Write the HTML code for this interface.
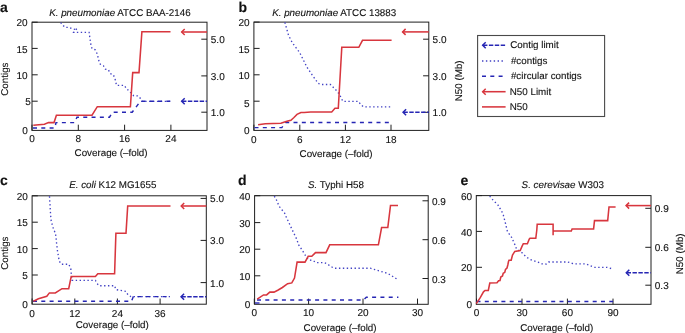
<!DOCTYPE html><html><head><meta charset="utf-8"><style>html,body{margin:0;padding:0;background:#fff;}svg{display:block;filter:blur(0.3px);}text{text-rendering:geometricPrecision;font-family:"Liberation Sans",sans-serif;fill:#111;stroke:#111;stroke-width:0.12px;}</style></head><body>
<svg width="685" height="333" viewBox="0 0 685 333">
<text x="0" y="11.7" font-size="14" font-weight="bold" fill="#000">a</text>
<text x="238.5" y="11.7" font-size="14" font-weight="bold" fill="#000">b</text>
<text x="0" y="184.8" font-size="14" font-weight="bold" fill="#000">c</text>
<text x="238" y="184.8" font-size="14" font-weight="bold" fill="#000">d</text>
<text x="460.5" y="184.8" font-size="14" font-weight="bold" fill="#000">e</text>
<text x="49.2" y="15.6" font-size="9.8"><tspan font-style="italic">K. pneumoniae</tspan> ATCC BAA-2146</text>
<text x="272.2" y="15.5" font-size="9.8"><tspan font-style="italic">K. pneumoniae</tspan> ATCC 13883</text>
<text x="69.2" y="188.2" font-size="9.8"><tspan font-style="italic">E. coli</tspan> K12 MG1655</text>
<text x="308" y="188.2" font-size="9.8"><tspan font-style="italic">S.</tspan> Typhi H58</text>
<text x="521.6" y="188.1" font-size="9.8"><tspan font-style="italic">S. cerevisae</tspan> W303</text>
<text x="74.6" y="156.4" font-size="9.8" text-anchor="start">Coverage (–fold)</text>
<text x="299.6" y="157" font-size="9.8" text-anchor="start">Coverage (–fold)</text>
<text x="75.8" y="328" font-size="9.8" text-anchor="start">Coverage (–fold)</text>
<text x="303.6" y="331" font-size="9.8" text-anchor="start">Coverage (–fold)</text>
<text x="520.2" y="330.8" font-size="9.8" text-anchor="start">Coverage (–fold)</text>
<text x="0" y="0" font-size="9.8" text-anchor="middle" transform="translate(8.4,79.1) rotate(-90)">Contigs</text>
<text x="0" y="0" font-size="9.8" text-anchor="middle" transform="translate(8.4,253.1) rotate(-90)">Contigs</text>
<text x="0" y="0" font-size="9.8" text-anchor="middle" transform="translate(461.5,80.8) rotate(-90)">N50 (Mb)</text>
<text x="0" y="0" font-size="9.8" text-anchor="middle" transform="translate(683.3,253.8) rotate(-90)">N50 (Mb)</text>
<rect x="32" y="22.2" width="175" height="108.2" fill="none" stroke="#1e1e1e" stroke-width="1"/>
<line x1="32" y1="22.2" x2="37.7" y2="22.2" stroke="#1e1e1e" stroke-width="1"/>
<text x="27.7" y="26.299999999999997" font-size="10" text-anchor="end">20</text>
<line x1="32" y1="48.4" x2="37.7" y2="48.4" stroke="#1e1e1e" stroke-width="1"/>
<text x="27.7" y="52.5" font-size="10" text-anchor="end">15</text>
<line x1="32" y1="74.8" x2="37.7" y2="74.8" stroke="#1e1e1e" stroke-width="1"/>
<text x="27.7" y="78.89999999999999" font-size="10" text-anchor="end">10</text>
<line x1="32" y1="101.2" x2="37.7" y2="101.2" stroke="#1e1e1e" stroke-width="1"/>
<text x="30.7" y="105.3" font-size="10" text-anchor="end">5</text>
<text x="27.7" y="134.4" font-size="10" text-anchor="end">0</text>
<line x1="201.3" y1="39.2" x2="207" y2="39.2" stroke="#1e1e1e" stroke-width="1"/>
<text x="210.8" y="43.2" font-size="10" text-anchor="start">5.0</text>
<line x1="201.3" y1="75.9" x2="207" y2="75.9" stroke="#1e1e1e" stroke-width="1"/>
<text x="210.8" y="79.9" font-size="10" text-anchor="start">3.0</text>
<line x1="201.3" y1="112.2" x2="207" y2="112.2" stroke="#1e1e1e" stroke-width="1"/>
<text x="210.8" y="116.2" font-size="10" text-anchor="start">1.0</text>
<line x1="32" y1="130.4" x2="32" y2="124.7" stroke="#1e1e1e" stroke-width="1"/>
<text x="32" y="142.4" font-size="10" text-anchor="middle">0</text>
<line x1="78.3" y1="130.4" x2="78.3" y2="124.7" stroke="#1e1e1e" stroke-width="1"/>
<text x="78.3" y="142.4" font-size="10" text-anchor="middle">8</text>
<line x1="124.6" y1="130.4" x2="124.6" y2="124.7" stroke="#1e1e1e" stroke-width="1"/>
<text x="124.6" y="142.4" font-size="10" text-anchor="middle">16</text>
<line x1="170.9" y1="130.4" x2="170.9" y2="124.7" stroke="#1e1e1e" stroke-width="1"/>
<text x="170.9" y="142.4" font-size="10" text-anchor="middle">24</text>
<polyline points="60.6,22.6 62.6,24.8 64.9,27.3 68.9,27.3 72.1,28.7 75.4,29.4 77.0,28.4 73.8,32.4 89.1,32.4 89.2,33.4 90.4,41.4 91.0,45.3 92.0,48.6 95.2,49.8 97.0,53.4 98.0,57.0 99.0,61.2 100.3,64.2 103.4,65.7 105.4,69.2 108.4,69.7 110.1,73.5 113.2,74.6 114.9,78.2 116.5,85.3 124.3,85.3 126.4,88.6 129.0,90.8 131.5,93.5 133.8,95.8 137.8,95.8 140.5,98.5 141.8,101.3 171.0,101.3" fill="none" stroke="#4242c4" stroke-width="1.35" stroke-dasharray="1.4 2.5"/>
<polyline points="33.0,128.0 54.8,128.0 56.0,122.6 74.6,122.6 77.0,117.2 109.5,117.2 112.6,112.2 132.2,112.2 140.4,101.3 171.0,101.3" fill="none" stroke="#2626b4" stroke-width="1.45" stroke-dasharray="4 4.3"/>
<polyline points="33.3,125.3 44.4,124.2 48.5,122.6 54.0,122.6 56.4,115.2 92.0,115.2 97.3,106.7 130.4,106.7 132.7,72.6 139.0,72.6 141.9,31.8 170.5,31.8" fill="none" stroke="#d8363e" stroke-width="1.55" stroke-linejoin="miter"/>
<line x1="181.5" y1="32" x2="207" y2="32" stroke="#d8363e" stroke-width="1.55"/>
<polyline points="184.70000000000002,29.0 181.70000000000002,32 184.70000000000002,35.0" fill="none" stroke="#d8363e" stroke-width="1.5"/>
<line x1="181.5" y1="101.3" x2="207" y2="101.3" stroke="#2626b4" stroke-width="1.45" stroke-dasharray="4.9 1.5 4.4 1.5 4.4 1.5 4.4 1.5 4.4 1.5"/>
<polyline points="184.70000000000002,98.3 181.70000000000002,101.3 184.70000000000002,104.3" fill="none" stroke="#2626b4" stroke-width="1.5"/>
<rect x="253.9" y="22.1" width="174.9" height="108.30000000000001" fill="none" stroke="#1e1e1e" stroke-width="1"/>
<line x1="253.9" y1="22.1" x2="259.6" y2="22.1" stroke="#1e1e1e" stroke-width="1"/>
<text x="249.6" y="26.200000000000003" font-size="10" text-anchor="end">20</text>
<line x1="253.9" y1="48.4" x2="259.6" y2="48.4" stroke="#1e1e1e" stroke-width="1"/>
<text x="249.6" y="52.5" font-size="10" text-anchor="end">15</text>
<line x1="253.9" y1="74.8" x2="259.6" y2="74.8" stroke="#1e1e1e" stroke-width="1"/>
<text x="249.6" y="78.89999999999999" font-size="10" text-anchor="end">10</text>
<line x1="253.9" y1="101.2" x2="259.6" y2="101.2" stroke="#1e1e1e" stroke-width="1"/>
<text x="249.6" y="106.8" font-size="10" text-anchor="end">5</text>
<text x="249.6" y="134.4" font-size="10" text-anchor="end">0</text>
<line x1="423.1" y1="39.2" x2="428.8" y2="39.2" stroke="#1e1e1e" stroke-width="1"/>
<text x="432.6" y="43.2" font-size="10" text-anchor="start">5.0</text>
<line x1="423.1" y1="75.8" x2="428.8" y2="75.8" stroke="#1e1e1e" stroke-width="1"/>
<text x="432.6" y="79.8" font-size="10" text-anchor="start">3.0</text>
<line x1="423.1" y1="112.3" x2="428.8" y2="112.3" stroke="#1e1e1e" stroke-width="1"/>
<text x="432.6" y="116.3" font-size="10" text-anchor="start">1.0</text>
<line x1="253.9" y1="130.4" x2="253.9" y2="124.7" stroke="#1e1e1e" stroke-width="1"/>
<text x="253.9" y="143.0" font-size="10" text-anchor="middle">0</text>
<line x1="299.8" y1="130.4" x2="299.8" y2="124.7" stroke="#1e1e1e" stroke-width="1"/>
<text x="299.8" y="143.0" font-size="10" text-anchor="middle">6</text>
<line x1="345.4" y1="130.4" x2="345.4" y2="124.7" stroke="#1e1e1e" stroke-width="1"/>
<text x="345.4" y="143.0" font-size="10" text-anchor="middle">12</text>
<line x1="391" y1="130.4" x2="391" y2="124.7" stroke="#1e1e1e" stroke-width="1"/>
<text x="391" y="143.0" font-size="10" text-anchor="middle">18</text>
<polyline points="284.9,22.4 288.5,35.2 292.2,42.6 299.6,52.5 307.0,67.3 312.0,74.7 318.1,83.3 320.6,84.5 330.4,84.5 336.6,90.7 339.5,94.4 342.8,101.3 358.3,101.3 360.6,104.4 363.3,106.8 391.0,106.8" fill="none" stroke="#4242c4" stroke-width="1.35" stroke-dasharray="1.4 2.5"/>
<polyline points="254.5,127.6 281.8,127.6 285.8,122.5 392.0,122.5" fill="none" stroke="#2626b4" stroke-width="1.45" stroke-dasharray="4 4.3"/>
<polyline points="258.1,124.8 265.3,123.8 280.9,123.3 285.3,121.7 288.7,120.8 290.9,120.3 293.7,117.8 297.0,114.4 300.9,112.6 304.2,112.5 310.6,111.9 331.7,111.9 335.0,108.3 338.3,108.3 340.2,75.0 341.8,47.3 358.8,47.3 362.5,40.3 391.6,40.3" fill="none" stroke="#d8363e" stroke-width="1.55" stroke-linejoin="miter"/>
<line x1="402.4" y1="31.9" x2="428.8" y2="31.9" stroke="#d8363e" stroke-width="1.55"/>
<polyline points="405.59999999999997,28.9 402.59999999999997,31.9 405.59999999999997,34.9" fill="none" stroke="#d8363e" stroke-width="1.5"/>
<line x1="402.9" y1="112.3" x2="428.8" y2="112.3" stroke="#2626b4" stroke-width="1.45" stroke-dasharray="4.9 1.5 4.4 1.5 4.4 1.5 4.4 1.5 4.4 1.5"/>
<polyline points="406.09999999999997,109.3 403.09999999999997,112.3 406.09999999999997,115.3" fill="none" stroke="#2626b4" stroke-width="1.5"/>
<rect x="32.1" y="195.8" width="174.20000000000002" height="108.39999999999998" fill="none" stroke="#1e1e1e" stroke-width="1"/>
<line x1="32.1" y1="195.8" x2="37.800000000000004" y2="195.8" stroke="#1e1e1e" stroke-width="1"/>
<text x="27.8" y="199.9" font-size="10" text-anchor="end">20</text>
<line x1="32.1" y1="222.2" x2="37.800000000000004" y2="222.2" stroke="#1e1e1e" stroke-width="1"/>
<text x="27.8" y="226.29999999999998" font-size="10" text-anchor="end">15</text>
<line x1="32.1" y1="248.6" x2="37.800000000000004" y2="248.6" stroke="#1e1e1e" stroke-width="1"/>
<text x="27.8" y="252.7" font-size="10" text-anchor="end">10</text>
<line x1="32.1" y1="275.0" x2="37.800000000000004" y2="275.0" stroke="#1e1e1e" stroke-width="1"/>
<text x="27.8" y="279.1" font-size="10" text-anchor="end">5</text>
<text x="27.8" y="307.6" font-size="10" text-anchor="end">0</text>
<line x1="200.60000000000002" y1="198.4" x2="206.3" y2="198.4" stroke="#1e1e1e" stroke-width="1"/>
<text x="210.10000000000002" y="202.4" font-size="10" text-anchor="start">5.0</text>
<line x1="200.60000000000002" y1="240.4" x2="206.3" y2="240.4" stroke="#1e1e1e" stroke-width="1"/>
<text x="210.10000000000002" y="244.4" font-size="10" text-anchor="start">3.0</text>
<line x1="200.60000000000002" y1="282.6" x2="206.3" y2="282.6" stroke="#1e1e1e" stroke-width="1"/>
<text x="210.10000000000002" y="286.6" font-size="10" text-anchor="start">1.0</text>
<line x1="32.1" y1="304.2" x2="32.1" y2="298.5" stroke="#1e1e1e" stroke-width="1"/>
<text x="32.1" y="317.0" font-size="10" text-anchor="middle">0</text>
<line x1="74.8" y1="304.2" x2="74.8" y2="298.5" stroke="#1e1e1e" stroke-width="1"/>
<text x="74.8" y="317.0" font-size="10" text-anchor="middle">12</text>
<line x1="117.4" y1="304.2" x2="117.4" y2="298.5" stroke="#1e1e1e" stroke-width="1"/>
<text x="117.4" y="317.0" font-size="10" text-anchor="middle">24</text>
<line x1="160.1" y1="304.2" x2="160.1" y2="298.5" stroke="#1e1e1e" stroke-width="1"/>
<text x="160.1" y="317.0" font-size="10" text-anchor="middle">36</text>
<polyline points="49.5,196.3 50.6,215.0 51.2,221.0 53.2,228.0 55.6,234.0 57.3,249.7 59.2,261.0 61.2,264.2 68.8,264.2 70.8,269.0 72.0,280.4 95.4,280.4 97.2,283.6 99.0,285.7 114.6,285.7 115.8,289.6 126.0,291.4 128.0,295.0 131.0,296.6 170.0,296.6" fill="none" stroke="#4242c4" stroke-width="1.35" stroke-dasharray="1.4 2.5"/>
<polyline points="33.0,301.3 131.5,301.3 133.3,296.6 169.8,296.6" fill="none" stroke="#2626b4" stroke-width="1.45" stroke-dasharray="4 4.3"/>
<polyline points="33.4,301.3 38.4,298.8 46.8,296.3 49.4,292.9 55.3,292.9 62.0,288.7 68.7,288.7 71.2,276.5 95.4,276.5 97.8,273.7 114.6,273.7 115.9,233.3 126.0,233.3 127.7,205.9 170.5,205.9" fill="none" stroke="#d8363e" stroke-width="1.55" stroke-linejoin="miter"/>
<line x1="181.0" y1="206" x2="206.3" y2="206" stroke="#d8363e" stroke-width="1.55"/>
<polyline points="184.20000000000002,203.0 181.20000000000002,206 184.20000000000002,209.0" fill="none" stroke="#d8363e" stroke-width="1.5"/>
<line x1="180.9" y1="296.7" x2="206.3" y2="296.7" stroke="#2626b4" stroke-width="1.45" stroke-dasharray="4.9 1.5 4.4 1.5 4.4 1.5 4.4 1.5 4.4 1.5"/>
<polyline points="184.10000000000002,293.7 181.10000000000002,296.7 184.10000000000002,299.7" fill="none" stroke="#2626b4" stroke-width="1.5"/>
<rect x="254.6" y="195.7" width="173.6" height="108.60000000000002" fill="none" stroke="#1e1e1e" stroke-width="1"/>
<line x1="254.6" y1="195.7" x2="260.3" y2="195.7" stroke="#1e1e1e" stroke-width="1"/>
<text x="250.29999999999998" y="199.79999999999998" font-size="10" text-anchor="end">40</text>
<line x1="254.6" y1="222.6" x2="260.3" y2="222.6" stroke="#1e1e1e" stroke-width="1"/>
<text x="250.29999999999998" y="226.7" font-size="10" text-anchor="end">30</text>
<line x1="254.6" y1="249.2" x2="260.3" y2="249.2" stroke="#1e1e1e" stroke-width="1"/>
<text x="250.29999999999998" y="253.29999999999998" font-size="10" text-anchor="end">20</text>
<line x1="254.6" y1="275.8" x2="260.3" y2="275.8" stroke="#1e1e1e" stroke-width="1"/>
<text x="250.29999999999998" y="279.90000000000003" font-size="10" text-anchor="end">10</text>
<text x="250.29999999999998" y="307.90000000000003" font-size="10" text-anchor="end">0</text>
<line x1="422.5" y1="200.8" x2="428.2" y2="200.8" stroke="#1e1e1e" stroke-width="1"/>
<text x="432.0" y="204.8" font-size="10" text-anchor="start">0.9</text>
<line x1="422.5" y1="239.7" x2="428.2" y2="239.7" stroke="#1e1e1e" stroke-width="1"/>
<text x="432.0" y="243.7" font-size="10" text-anchor="start">0.6</text>
<line x1="422.5" y1="278.5" x2="428.2" y2="278.5" stroke="#1e1e1e" stroke-width="1"/>
<text x="432.0" y="282.5" font-size="10" text-anchor="start">0.3</text>
<line x1="254.3" y1="304.3" x2="254.3" y2="298.6" stroke="#1e1e1e" stroke-width="1"/>
<text x="254.3" y="316.3" font-size="10" text-anchor="middle">0</text>
<line x1="308.6" y1="304.3" x2="308.6" y2="298.6" stroke="#1e1e1e" stroke-width="1"/>
<text x="308.6" y="316.3" font-size="10" text-anchor="middle">10</text>
<line x1="363" y1="304.3" x2="363" y2="298.6" stroke="#1e1e1e" stroke-width="1"/>
<text x="363" y="316.3" font-size="10" text-anchor="middle">20</text>
<line x1="417.5" y1="304.3" x2="417.5" y2="298.6" stroke="#1e1e1e" stroke-width="1"/>
<text x="417.5" y="316.3" font-size="10" text-anchor="middle">30</text>
<polyline points="274.3,196.1 276.2,199.3 277.7,203.0 279.6,206.8 282.1,210.0 284.6,213.1 285.6,215.7 292.3,230.0 297.1,240.0 298.2,244.2 302.4,250.5 306.6,257.4 309.2,260.0 312.9,260.5 316.0,262.6 324.0,262.6 327.1,263.7 330.3,266.1 334.0,268.2 370.3,268.2 378.4,270.7 387.8,273.4 396.5,278.8" fill="none" stroke="#4242c4" stroke-width="1.35" stroke-dasharray="1.4 2.5"/>
<polyline points="257.0,300.0 363.5,300.0 366.3,297.3 398.4,297.3" fill="none" stroke="#2626b4" stroke-width="1.45" stroke-dasharray="4 4.3"/>
<line x1="255" y1="303" x2="259.5" y2="303" stroke="#2626b4" stroke-width="1.4"/>
<polyline points="257.2,299.1 263.5,294.9 266.6,294.9 269.8,292.1 274.0,292.1 278.2,290.0 282.4,287.5 287.6,283.7 291.8,282.9 294.5,278.1 297.1,262.1 305.0,262.1 308.2,256.3 311.8,256.3 315.5,252.6 326.0,252.6 329.7,244.8 378.4,244.8 381.6,227.5 387.8,227.5 390.5,205.4 398.0,205.4" fill="none" stroke="#d8363e" stroke-width="1.55" stroke-linejoin="miter"/>
<rect x="476.3" y="195.6" width="174.7" height="108.70000000000002" fill="none" stroke="#1e1e1e" stroke-width="1"/>
<line x1="476.3" y1="195.6" x2="482.0" y2="195.6" stroke="#1e1e1e" stroke-width="1"/>
<text x="472.0" y="199.7" font-size="10" text-anchor="end">60</text>
<line x1="476.3" y1="231.4" x2="482.0" y2="231.4" stroke="#1e1e1e" stroke-width="1"/>
<text x="472.0" y="235.5" font-size="10" text-anchor="end">40</text>
<line x1="476.3" y1="267.3" x2="482.0" y2="267.3" stroke="#1e1e1e" stroke-width="1"/>
<text x="472.0" y="271.40000000000003" font-size="10" text-anchor="end">20</text>
<text x="472.0" y="307.70000000000005" font-size="10" text-anchor="end">0</text>
<line x1="645.3" y1="208.3" x2="651" y2="208.3" stroke="#1e1e1e" stroke-width="1"/>
<text x="654.8" y="212.3" font-size="10" text-anchor="start">0.9</text>
<line x1="645.3" y1="247.3" x2="651" y2="247.3" stroke="#1e1e1e" stroke-width="1"/>
<text x="654.8" y="251.3" font-size="10" text-anchor="start">0.6</text>
<line x1="645.3" y1="285.2" x2="651" y2="285.2" stroke="#1e1e1e" stroke-width="1"/>
<text x="654.8" y="289.2" font-size="10" text-anchor="start">0.3</text>
<line x1="476.5" y1="304.3" x2="476.5" y2="298.6" stroke="#1e1e1e" stroke-width="1"/>
<text x="476.5" y="316.3" font-size="10" text-anchor="middle">0</text>
<line x1="522" y1="304.3" x2="522" y2="298.6" stroke="#1e1e1e" stroke-width="1"/>
<text x="522" y="316.3" font-size="10" text-anchor="middle">30</text>
<line x1="567.4" y1="304.3" x2="567.4" y2="298.6" stroke="#1e1e1e" stroke-width="1"/>
<text x="567.4" y="316.3" font-size="10" text-anchor="middle">60</text>
<line x1="613" y1="304.3" x2="613" y2="298.6" stroke="#1e1e1e" stroke-width="1"/>
<text x="613" y="316.3" font-size="10" text-anchor="middle">90</text>
<polyline points="489.7,196.1 491.6,198.6 495.4,202.4 497.9,204.9 499.8,208.1 501.7,211.3 503.3,215.0 505.4,223.0 507.4,231.5 511.6,237.3 514.9,244.8 516.5,248.9 521.5,252.2 526.4,257.1 530.6,259.6 538.0,262.1 542.0,263.8 546.1,264.1 548.5,262.0 567.8,262.0 573.4,263.8 585.4,263.8 594.3,267.3 607.1,267.3 613.5,269.2" fill="none" stroke="#4242c4" stroke-width="1.35" stroke-dasharray="1.4 2.5"/>
<polyline points="476.5,301.5 613.1,301.5" fill="none" stroke="#2626b4" stroke-width="1.45" stroke-dasharray="4 4.3"/>
<polyline points="476.3,303.7 480.1,297.9 483.5,291.8 485.0,290.5 488.3,290.5 489.8,283.0 497.0,282.8 498.6,280.8 500.0,280.5 500.8,277.0 502.5,276.0 503.2,273.3 504.8,272.3 505.5,269.3 507.0,268.0 507.8,265.0 508.5,261.5 509.0,260.3 511.2,260.3 512.5,255.0 513.4,253.6 514.8,251.4 520.2,250.5 522.0,246.4 523.3,243.7 527.4,243.7 529.2,239.2 530.0,238.3 535.8,238.3 536.8,230.0 537.2,224.2 553.1,224.2 553.1,235.3 553.1,231.0 571.3,231.0 572.1,228.9 593.6,228.9 594.5,220.6 607.7,220.6 609.0,206.9 615.6,206.9" fill="none" stroke="#d8363e" stroke-width="1.55" stroke-linejoin="miter"/>
<line x1="625.9" y1="205.6" x2="651" y2="205.6" stroke="#d8363e" stroke-width="1.55"/>
<polyline points="629.0999999999999,202.6 626.0999999999999,205.6 629.0999999999999,208.6" fill="none" stroke="#d8363e" stroke-width="1.5"/>
<line x1="626.1" y1="272.7" x2="650.8" y2="272.7" stroke="#2626b4" stroke-width="1.45" stroke-dasharray="4.9 1.5 4.4 1.5 4.4 1.5 4.4 1.5 4.4 1.5"/>
<polyline points="629.3,269.7 626.3,272.7 629.3,275.7" fill="none" stroke="#2626b4" stroke-width="1.5"/>
<rect x="477.6" y="35.5" width="127.0" height="81.0" fill="none" stroke="#4a4a4a" stroke-width="1.1"/>
<line x1="482.5" y1="45.3" x2="505.3" y2="45.3" stroke="#2626b4" stroke-width="1.45" stroke-dasharray="4.9 1.5 4.4 1.5 4.4 1.5 4.4 1.5 4.4 1.5"/>
<polyline points="485.7,42.3 482.7,45.3 485.7,48.3" fill="none" stroke="#2626b4" stroke-width="1.5"/>
<text x="510.2" y="48.3" font-size="9.8" text-anchor="start">Contig limit</text>
<polyline points="482.0,61.0 505.0,61.0" fill="none" stroke="#4242c4" stroke-width="1.35" stroke-dasharray="1.4 2.5"/>
<text x="510.9" y="64.0" font-size="9.8" text-anchor="start">#contigs</text>
<polyline points="482.0,76.2 503.3,76.2" fill="none" stroke="#2626b4" stroke-width="1.45" stroke-dasharray="4 4.3"/>
<text x="510.9" y="79.3" font-size="9.8" text-anchor="start">#circular contigs</text>
<line x1="482.5" y1="91.7" x2="505.6" y2="91.7" stroke="#d8363e" stroke-width="1.55"/>
<polyline points="485.7,88.7 482.7,91.7 485.7,94.7" fill="none" stroke="#d8363e" stroke-width="1.5"/>
<text x="509.8" y="95.2" font-size="9.8" text-anchor="start">N50 Limit</text>
<polyline points="482.0,106.9 505.6,106.9" fill="none" stroke="#d8363e" stroke-width="1.55" stroke-linejoin="miter"/>
<text x="509.8" y="110.4" font-size="9.8" text-anchor="start">N50</text>
</svg></body></html>
